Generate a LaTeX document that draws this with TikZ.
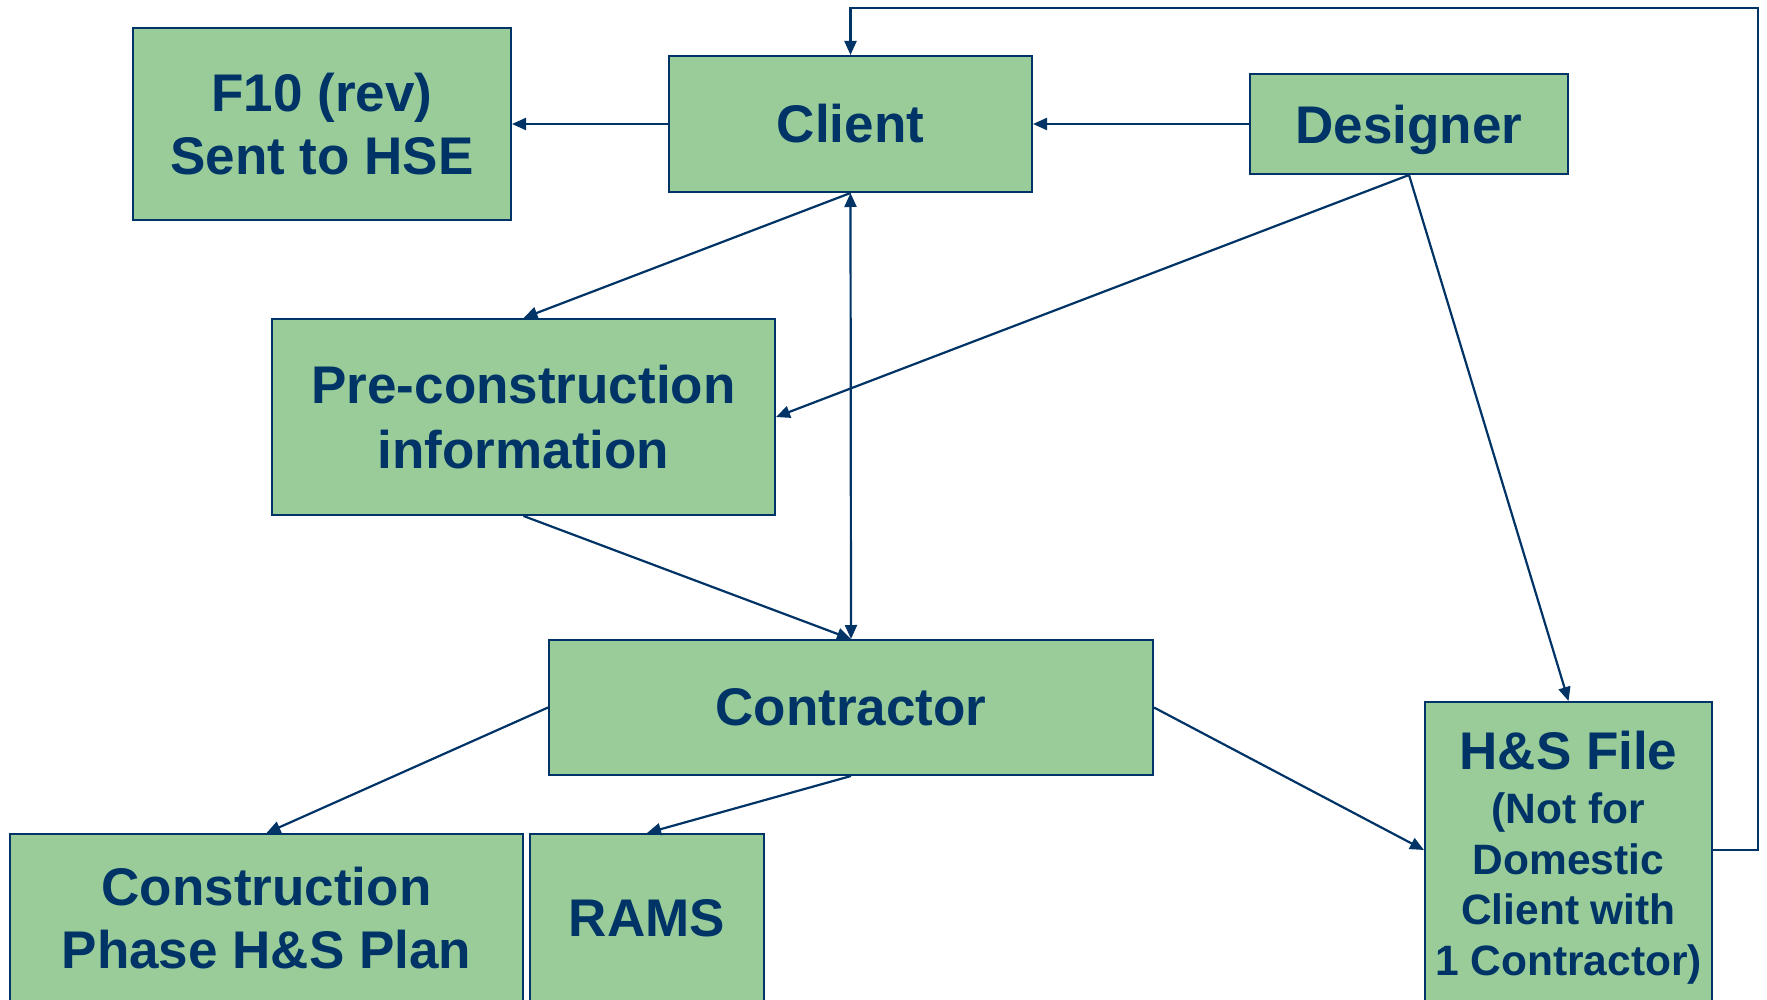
\documentclass[tikz,border=0pt]{standalone}
\usepackage{fontspec}
\setmainfont{Liberation Sans}
\usetikzlibrary{arrows.meta}
\definecolor{boxgreen}{HTML}{99CC99}
\definecolor{navy}{HTML}{003366}
\tikzset{
  box/.style={draw=navy, line width=1pt, fill=boxgreen, text=navy, inner sep=0pt,
    align=center, font=\bfseries\fontsize{26.5}{31.5}\selectfont},
  smalltext/.style={font=\bfseries\fontsize{21.25}{25.4}\selectfont},
  link/.style={draw=navy, line width=1.1pt, -{Triangle[length=7pt,width=6pt]}},
  dlink/.style={draw=navy, line width=1.1pt, {Triangle[length=7pt,width=6pt]}-{Triangle[length=7pt,width=6pt]}}
}
\begin{document}
\begin{tikzpicture}[x=0.5pt, y=-0.5pt]
\useasboundingbox (0,0) rectangle (1767,1000);
\fill[white] (0,0) rectangle (1767,1000);

% boxes
\node[box, minimum width=189pt, minimum height=96pt] (f10) at (322,124) {F10 (rev)\\Sent to HSE};
\node[box, minimum width=181.5pt, minimum height=68pt] (client) at (850.5,124) {Client};
\node[box, minimum width=159pt, minimum height=50pt, text depth=0pt] (designer) at (1409,124) {Designer};
\node[box, minimum width=251.5pt, minimum height=98pt,
  font=\bfseries\fontsize{26.5}{32.5}\selectfont] (pre) at (523.5,417) {Pre-construction\\information};
\node[box, minimum width=302pt, minimum height=67.5pt] (contractor) at (851,707.5) {Contractor};
% the bottom row runs off the lower edge
\node[box, minimum width=256.5pt, minimum height=84.5pt] (cons) at (266.5,918.5) {Construction\\Phase H\&S Plan};
\node[box, minimum width=117pt, minimum height=84.5pt] (rams) at (647,918.5) {RAMS};
\node[box, minimum width=143.5pt, minimum height=151pt] (hs) at (1568.5,853) {};
\node[text=navy, align=center, inner sep=0pt, smalltext] (hstext) at ([yshift=-2.5pt]hs.center)
  {{\fontsize{26.5}{31.5}\selectfont H\&S File}\\[1.3pt](Not for\\Domestic\\Client with\\1 Contractor)};

% connectors
\draw[link] (client.west) -- (f10.east);
\draw[link] (designer.west) -- (client.east);
\draw[link] (client.south) -- (pre.north);
\draw[link] (designer.south) -- (pre.east);
\draw[link] (designer.south) -- (hs.north);
\draw[dlink] (client.south) -- (contractor.north);
\draw[link] (pre.south) -- (contractor.north);
\draw[link] (contractor.west) -- (cons.north);
\draw[link] (contractor.south) -- (rams.north);
\draw[link] (contractor.east) -- (hs.west |- 0,850);

% feedback from the H&S file back to the client
\coordinate (fb) at (1758,8);
\draw[link] (hs.east |- 0,850) -| (fb) -| (client.north);
\end{tikzpicture}
\end{document}
